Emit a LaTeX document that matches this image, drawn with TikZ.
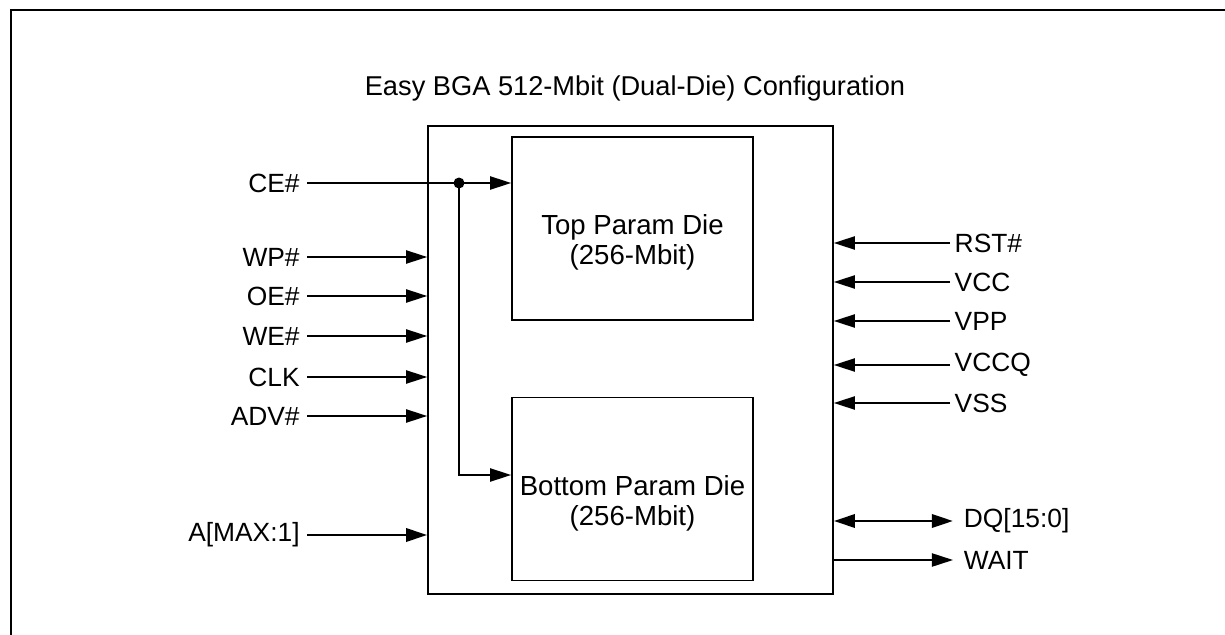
\documentclass[tikz,border=0pt]{standalone}
\usepackage{fontspec}
\setmainfont{Liberation Sans}
\usetikzlibrary{arrows.meta,positioning}

\tikzset{
  pin/.style={line width=1pt,-{Triangle[length=12pt,width=7.5pt]}},
  bus/.style={line width=1.6pt,{Triangle[length=12pt,width=7.5pt]}-{Triangle[length=12pt,width=7.5pt]}},
  diebox/.style={draw,line width=1pt,minimum width=4.82cm,minimum height=3.66cm},
  dietext/.style={align=center,font=\fontsize{15.7}{17}\selectfont},
  lsig/.style={anchor=east,inner sep=4pt,font=\fontsize{15}{18}\selectfont},
  rsig/.style={anchor=west,inner sep=2.5pt,font=\fontsize{15}{18}\selectfont}
}

\begin{document}
\begin{tikzpicture}[x=0.02cm,y=-0.02cm]
  \useasboundingbox (0,0) rectangle (1225,635);

  % Frame
  \draw[line width=1.7pt] (11,635) -- (11,10) -- (1225,10);

  % Title
  \node[font=\fontsize{15.5}{18}\selectfont] (title) at (635,88) {Easy BGA 512-Mbit (Dual-Die) Configuration};

  % Package and dies
  \node[draw,line width=1pt,minimum width=8.1cm,minimum height=9.36cm] (chip) at (630.5,360) {};
  \node[diebox] (top) at (632.5,228.5) {};
  \node[diebox] (bot) at (632.5,489) {};
  \node[dietext] (toptxt) at ([yshift=-0.28cm]top.center) {Top Param Die\\(256-Mbit)};
  \node[dietext] (bottxt) at ([yshift=-0.28cm]bot.center) {Bottom Param Die\\(256-Mbit)};

  % Left signals
  \node[lsig] (ce) at (307,183) {CE\#};
  \node[lsig] (wp) at (307,257) {WP\#};
  \node[lsig] (oe) at (307,296) {OE\#};
  \node[lsig] (we) at (307,336) {WE\#};
  \node[lsig] (clk) at (307,377) {CLK};
  \node[lsig] (adv) at (307,416) {ADV\#};
  \node[lsig] (addr) at (307,535) {A[MAX:1]};

  \coordinate (split) at (459,183);
  \coordinate (bend) at (459,475);
  \draw[pin] (ce) -- (top.west |- ce);
  \draw[pin] (split) -- (bend) -- (bend -| bot.west);
  \fill (split) circle (0.11cm);

  \draw[pin] (wp) -- (wp -| chip.west);
  \draw[pin] (oe) -- (oe -| chip.west);
  \draw[pin] (we) -- (we -| chip.west);
  \draw[pin] (clk) -- (clk -| chip.west);
  \draw[pin] (adv) -- (adv -| chip.west);
  \draw[pin,line width=1.6pt] (addr) -- (addr -| chip.west);

  % Right signals
  \node[rsig] (rst) at (950,243) {RST\#};
  \node[rsig] (vcc) at (950,282) {VCC};
  \node[rsig] (vpp) at (950,321) {VPP};
  \node[rsig] (vccq) at (950,365) {VCCQ};
  \node[rsig] (vss) at (950,403) {VSS};
  \node[rsig,inner sep=6pt] (dq) at (953,521) {DQ[15:0]};
  \node[rsig,inner sep=6pt] (wait) at (953,560) {WAIT};

  \draw[pin] (rst) -- (rst -| chip.east);
  \draw[pin] (vcc) -- (vcc -| chip.east);
  \draw[pin] (vpp) -- (vpp -| chip.east);
  \draw[pin] (vccq) -- (vccq -| chip.east);
  \draw[pin] (vss) -- (vss -| chip.east);
  \draw[bus] (chip.east |- dq) -- (dq);
  \draw[pin] (chip.east |- wait) -- (wait);
\end{tikzpicture}
\end{document}
